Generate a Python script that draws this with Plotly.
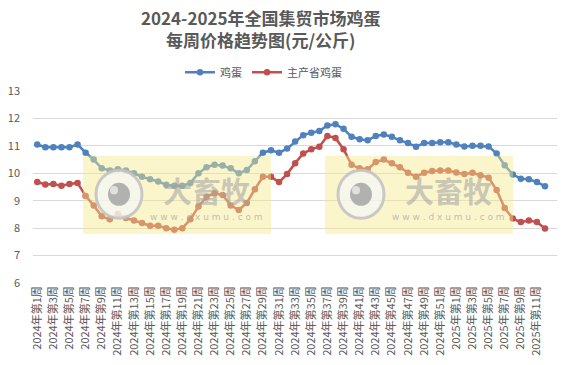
import plotly.graph_objects as go

weeks_2024 = [f"2024年第{i}周" for i in range(1, 53)]
weeks_2025 = [f"2025年第{i}周" for i in range(1, 13)]
categories = weeks_2024 + weeks_2025

egg = [11.05, 10.95, 10.95, 10.95, 10.95, 11.05, 10.75, 10.5, 10.18, 10.1,
       10.15, 10.1, 10.0, 9.87, 9.78, 9.7, 9.58, 9.55, 9.55, 9.65,
       10.0, 10.22, 10.31, 10.28, 10.18, 10.0, 10.12, 10.44, 10.75, 10.84,
       10.75, 10.9, 11.16, 11.39, 11.48, 11.54, 11.74, 11.79, 11.62, 11.33,
       11.24, 11.2, 11.36, 11.41, 11.33, 11.2, 11.1, 10.97, 11.1, 11.1,
       11.13, 11.13,
       11.05, 10.98, 11.0, 11.0, 10.98, 10.72, 10.29, 9.96, 9.8, 9.78,
       9.68, 9.53]

main_egg = [9.68, 9.59, 9.61, 9.55, 9.61, 9.65, 9.17, 8.83, 8.43, 8.32,
            8.52, 8.37, 8.28, 8.19, 8.09, 8.09, 8.0, 7.94, 8.0, 8.32,
            8.79, 9.14, 9.27, 9.21, 8.83, 8.66, 8.92, 9.42, 9.87, 9.87,
            9.68, 9.97, 10.37, 10.72, 10.88, 10.97, 11.36, 11.29, 10.88, 10.31,
            10.18, 10.15, 10.41, 10.5, 10.37, 10.22, 10.02, 9.87, 10.02, 10.08,
            10.1, 10.1,
            10.03, 9.97, 10.02, 9.93, 9.84, 9.39, 8.73, 8.35, 8.22, 8.28,
            8.22, 7.99]

y_ticks = [6, 7, 8, 9, 10, 11, 12, 13]
title_lines = ["2024-2025年全国集贸市场鸡蛋", "每周价格趋势图(元/公斤)"]

# page body has an 8px margin; work in screen pixels and subtract it
OFF = 8
SW, SH = 567, 365
W, H = SW - OFF, SH - OFF
PL, PR, PT, PB = 33, 557, 91, 275          # plot area in screen pixels
L, T = PL - OFF, PT - OFF
R, B = SW - PR, SH - PB - OFF
PW, PH = PR - PL, PB - PT

def px(x):
    return (x - PL) / PW

def py(y):
    return (PB - y) / PH

fig = go.Figure()
fig.add_trace(go.Scatter(x=categories, y=egg, name="鸡蛋", mode="lines+markers",
                         line=dict(color="#4F81BD", width=2.5),
                         marker=dict(size=6.5, color="#4F81BD")))
fig.add_trace(go.Scatter(x=categories, y=main_egg, name="主产省鸡蛋", mode="lines+markers",
                         line=dict(color="#C0504D", width=2.5),
                         marker=dict(size=6.5, color="#C0504D")))

shapes = []
annotations = []
for x0 in (83, 325):
    shapes.append(dict(type="rect", xref="paper", yref="paper",
                       x0=px(x0), x1=px(x0 + 188), y0=py(228), y1=py(153),
                       fillcolor="rgba(245,232,140,0.45)", line=dict(width=0), layer="above"))
    cx, cy, r = x0 + 36, 190, 23
    shapes.append(dict(type="circle", xref="paper", yref="paper",
                       x0=px(cx - r), x1=px(cx + r), y0=py(cy + r), y1=py(cy - r),
                       fillcolor="rgba(245,245,245,0.75)",
                       line=dict(color="rgba(195,195,195,0.9)", width=3), layer="above"))
    r2 = 11
    shapes.append(dict(type="circle", xref="paper", yref="paper",
                       x0=px(cx - r2), x1=px(cx + r2), y0=py(cy + r2), y1=py(cy - r2),
                       fillcolor="rgba(165,165,165,0.85)", line=dict(width=0), layer="above"))
    r3 = 4
    shapes.append(dict(type="circle", xref="paper", yref="paper",
                       x0=px(cx - 5 - r3), x1=px(cx - 5 + r3), y0=py(cy - 4 + r3), y1=py(cy - 4 - r3),
                       fillcolor="rgba(230,230,230,0.9)", line=dict(width=0), layer="above"))
    annotations.append(dict(xref="paper", yref="paper", x=px(x0 + 123), y=py(186),
                            xanchor="center", yanchor="middle",
                            text="<b>大畜牧</b>", showarrow=False,
                            font=dict(size=29, color="rgba(160,160,160,0.55)", family="Noto Sans CJK SC")))
    annotations.append(dict(xref="paper", yref="paper", x=px(x0 + 123), y=py(212),
                            xanchor="center", yanchor="middle",
                            text="w w w . d x u m u . c o m", showarrow=False,
                            font=dict(size=9, color="rgba(150,150,150,0.6)", family="DejaVu Sans")))

annotations.append(dict(xref="paper", yref="paper", x=px(261), y=py(31),
                        xanchor="center", yanchor="middle", showarrow=False,
                        text="<b>" + "<br>".join(title_lines) + "</b>",
                        font=dict(size=17, color="#595959", family="Noto Sans CJK SC")))

fig.update_layout(
    width=W, height=H,
    margin=dict(l=L, r=R, t=T, b=B, autoexpand=False),
    paper_bgcolor="white", plot_bgcolor="white",
    font=dict(family="Noto Sans CJK SC, sans-serif", color="#595959"),
    showlegend=True,
    legend=dict(orientation="h", x=px(180), xanchor="left", y=py(73), yanchor="middle",
                font=dict(size=11, color="#595959"), itemwidth=30, tracegroupgap=0,
                bgcolor="rgba(0,0,0,0)"),
    xaxis=dict(type="category", range=[-0.53, 64.49], tickmode="array",
               tickvals=categories[::2], ticktext=categories[::2], tickangle=-90,
               tickfont=dict(size=11, color="#595959", family="Noto Sans CJK SC"),
               showgrid=False, showline=False, ticks="", zeroline=False, automargin=False),
    yaxis=dict(range=[6, 13], tickvals=y_ticks, showgrid=True, gridcolor="#D9D9D9",
               gridwidth=1, zeroline=False, showline=False, ticks="",
               tickfont=dict(size=11, color="#595959"), ticklabelstandoff=12, automargin=False),
    shapes=shapes, annotations=annotations,
)

fig.write_html("out.html")
